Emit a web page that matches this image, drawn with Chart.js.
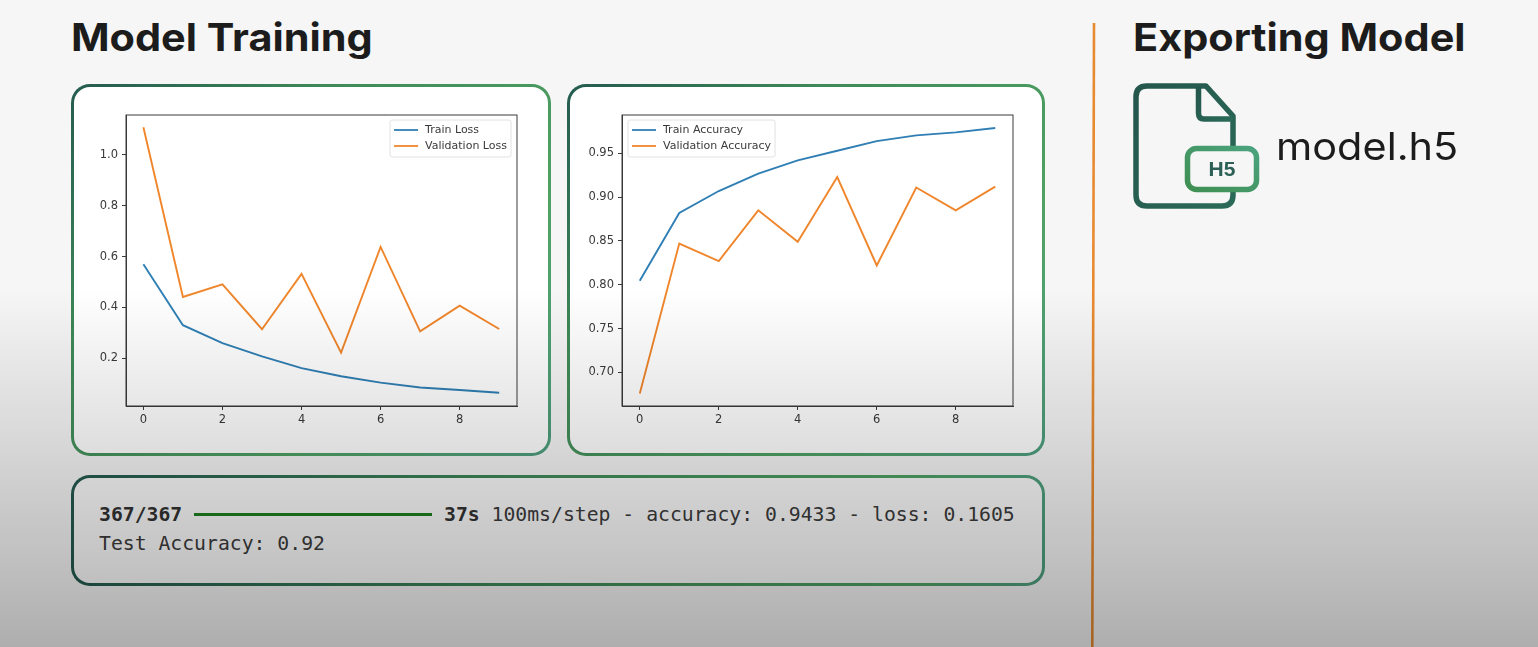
<!DOCTYPE html>
<html>
<head>
<meta charset="utf-8">
<title>Model Training</title>
<script src="https://cdn.jsdelivr.net/npm/chart.js@4"></script>
<style>
html, body { margin: 0; padding: 0; }
body { width: 1538px; height: 647px; background: #f6f6f6; position: relative; overflow: hidden; font-family: Inter, sans-serif; }
h1 { position: absolute; margin: 0; font-size: 38px; line-height: 44px; font-weight: 700; color: #1c1c1c; white-space: nowrap; transform: scaleX(1.09); transform-origin: left center; }
.card { position: absolute; box-sizing: border-box; border: 3px solid transparent; border-radius: 19px;
  background: linear-gradient(#fff, #fff) padding-box, linear-gradient(135deg, #245a50, #3f8a58 30%, #4fa263 70%, #4f9f80) border-box; }
.card canvas { position: absolute; left: -3px; top: -3px; }
#c3 { background: linear-gradient(#fbfbfb, #fbfbfb) padding-box, linear-gradient(95deg, #245a50, #3f8a58 45%, #4fa263 85%, #4f9f80) border-box; }
.mono { position: absolute; font-family: "DejaVu Sans Mono", monospace; font-size: 19.75px; line-height: 24px; color: #3c3c3c; white-space: pre; }
.mono b { color: #333; }
#bar { position: absolute; left: 194px; top: 512.5px; width: 238px; height: 3px; background: #1f8020; }
#fileName { position: absolute; left: 1276px; top: 123px; font-size: 38px; line-height: 46px; color: #1c1c1c; transform: scaleX(1.09); transform-origin: left center; }
#shade { position: absolute; left: 0; top: 0; width: 1538px; height: 647px; pointer-events: none;
  background: linear-gradient(rgba(0,0,0,0) 290px, rgba(0,0,0,0.29) 647px); }
svg { position: absolute; left: 0; top: 0; }
</style>
</head>
<body>
<h1 style="left:71px;top:15px">Model Training</h1>
<h1 style="left:1133px;top:15px">Exporting Model</h1>

<div class="card" style="left:71px;top:84px;width:480px;height:372px"><canvas id="lossChart"></canvas></div>
<div class="card" style="left:567px;top:84px;width:478px;height:372px"><canvas id="accChart"></canvas></div>

<div class="card" id="c3" style="left:71px;top:475px;width:974px;height:111px"></div>
<div class="mono" style="left:99px;top:503px"><b>367/367</b></div>
<div id="bar"></div>
<div class="mono" style="left:444px;top:503px"><b>37s</b> 100ms/step - accuracy: 0.9433 - loss: 0.1605</div>
<div class="mono" style="left:99px;top:532px">Test Accuracy: 0.92</div>

<svg width="1538" height="647" viewBox="0 0 1538 647">
  <defs>
    <linearGradient id="fileGrad" x1="0" y1="0" x2="1" y2="1">
      <stop offset="0" stop-color="#24564c"/><stop offset="1" stop-color="#2b6a58"/>
    </linearGradient>
    <linearGradient id="badgeGrad" x1="0" y1="1" x2="1" y2="0">
      <stop offset="0" stop-color="#3f8f52"/><stop offset="1" stop-color="#4ba37e"/>
    </linearGradient>
  </defs>
  <line x1="1094" y1="23" x2="1092.3" y2="647" stroke="#e88a30" stroke-width="2.6"/>
  <path d="M1206 86 H1147 Q1136 86 1136 97 V195 Q1136 206 1147 206 H1222 Q1233 206 1233 195 V116 Z" fill="none" stroke="url(#fileGrad)" stroke-width="5.5" stroke-linejoin="round"/>
  <path d="M1198.5 87 V113 Q1198.5 119 1204 119 H1233" fill="none" stroke="url(#fileGrad)" stroke-width="5.5"/>
  <rect x="1187.5" y="148.5" width="69" height="41" rx="9" fill="#f6f6f6" stroke="url(#badgeGrad)" stroke-width="5.5"/>
  <text x="1222" y="176" text-anchor="middle" font-family="Liberation Sans" font-weight="700" font-size="21" fill="#2c5f55">H5</text>
</svg>
<div id="fileName">model.h5</div>
<div id="shade"></div>

<script>
const epochs = [0, 1, 2, 3, 4, 5, 6, 7, 8, 9];
const trainLoss = [0.570, 0.330, 0.259, 0.207, 0.161, 0.129, 0.104, 0.085, 0.075, 0.064];
const valLoss = [1.109, 0.441, 0.491, 0.314, 0.532, 0.222, 0.638, 0.306, 0.407, 0.315];
const trainAcc = [0.8046, 0.882, 0.907, 0.927, 0.942, 0.953, 0.964, 0.9705, 0.974, 0.979];
const valAcc = [0.676, 0.847, 0.827, 0.885, 0.849, 0.923, 0.822, 0.911, 0.885, 0.912];

const blue = '#2f7fb5', orange = '#f0862c', axisColor = '#3a3a3a';
const tickFont = { family: 'DejaVu Sans', size: 11.5 };

function points(values) {
    return values.map((v, i) => ({ x: epochs[i], y: v }));
}

// matplotlib style frame and legend inside the axes
const framePlugin = {
    id: 'frame',
    afterDatasetsDraw(chart, args, opts) {
        const a = chart.chartArea, ctx = chart.ctx;
        ctx.save();
        ctx.strokeStyle = axisColor;
        ctx.lineWidth = 1;
        ctx.strokeRect(a.left, a.top, a.width, a.height);

        ctx.font = '11px "DejaVu Sans"';
        const sets = chart.data.datasets;
        const textW = Math.max(...sets.map(d => ctx.measureText(d.label).width));
        const boxW = textW + 39, boxH = 37;
        const boxX = opts.side === 'left' ? a.left + 6 : a.right - 6 - boxW;
        const boxY = a.top + 5;
        ctx.fillStyle = 'rgba(255,255,255,0.8)';
        ctx.strokeStyle = '#e2e2e2';
        ctx.beginPath();
        ctx.roundRect(boxX, boxY, boxW, boxH, 2);
        ctx.fill();
        ctx.stroke();
        sets.forEach((d, i) => {
            const y = boxY + 10 + i * 16;
            ctx.strokeStyle = d.borderColor;
            ctx.lineWidth = 1.8;
            ctx.beginPath();
            ctx.moveTo(boxX + 4, y);
            ctx.lineTo(boxX + 28, y);
            ctx.stroke();
            ctx.fillStyle = axisColor;
            ctx.textBaseline = 'middle';
            ctx.fillText(d.label, boxX + 35, y + 0.5);
        });
        ctx.restore();
    }
};

function makeChart(id, w, h, pad, names, series, yRange, yStep, yDigits, xRange, legendSide) {
    const canvas = document.getElementById(id);
    canvas.width = w;
    canvas.height = h;
    canvas.style.width = w + 'px';
    canvas.style.height = h + 'px';
    return new Chart(canvas.getContext('2d'), {
        type: 'line',
        plugins: [framePlugin],
        data: {
            datasets: [
                { label: names[0], data: points(series[0]), borderColor: blue, borderWidth: 1.9, pointRadius: 0, tension: 0 },
                { label: names[1], data: points(series[1]), borderColor: orange, borderWidth: 1.9, pointRadius: 0, tension: 0 }
            ]
        },
        options: {
            responsive: false,
            animation: false,
            layout: { padding: pad },
            plugins: {
                legend: { display: false },
                tooltip: { enabled: false },
                frame: { side: legendSide }
            },
            scales: {
                x: {
                    type: 'linear',
                    min: xRange[0],
                    max: xRange[1],
                    grid: { drawOnChartArea: false, color: axisColor, tickLength: 4 },
                    border: { color: axisColor },
                    ticks: { stepSize: 2, includeBounds: false, color: axisColor, font: tickFont, padding: 3, maxRotation: 0 },
                    afterFit(s) { s.height = 30; }
                },
                y: {
                    min: yRange[0],
                    max: yRange[1],
                    grid: { drawOnChartArea: false, color: axisColor, tickLength: 4 },
                    border: { color: axisColor },
                    ticks: { stepSize: yStep, includeBounds: false, color: axisColor, font: tickFont, padding: 4,
                        callback: v => v.toFixed(yDigits) },
                    afterFit(s) { s.width = 45; }
                }
            }
        }
    });
}

makeChart('lossChart', 480, 372, { left: 10, right: 34, top: 31, bottom: 20 },
    ['Train Loss', 'Validation Loss'], [trainLoss, valLoss],
    [0.012, 1.157], 0.2, 1, [-0.44, 9.45], 'right');

makeChart('accChart', 478, 372, { left: 10, right: 32, top: 31, bottom: 20 },
    ['Train Accuracy', 'Validation Accuracy'], [trainAcc, valAcc],
    [0.6616, 0.9938], 0.05, 2, [-0.45, 9.45], 'left');
</script>
</body>
</html>
